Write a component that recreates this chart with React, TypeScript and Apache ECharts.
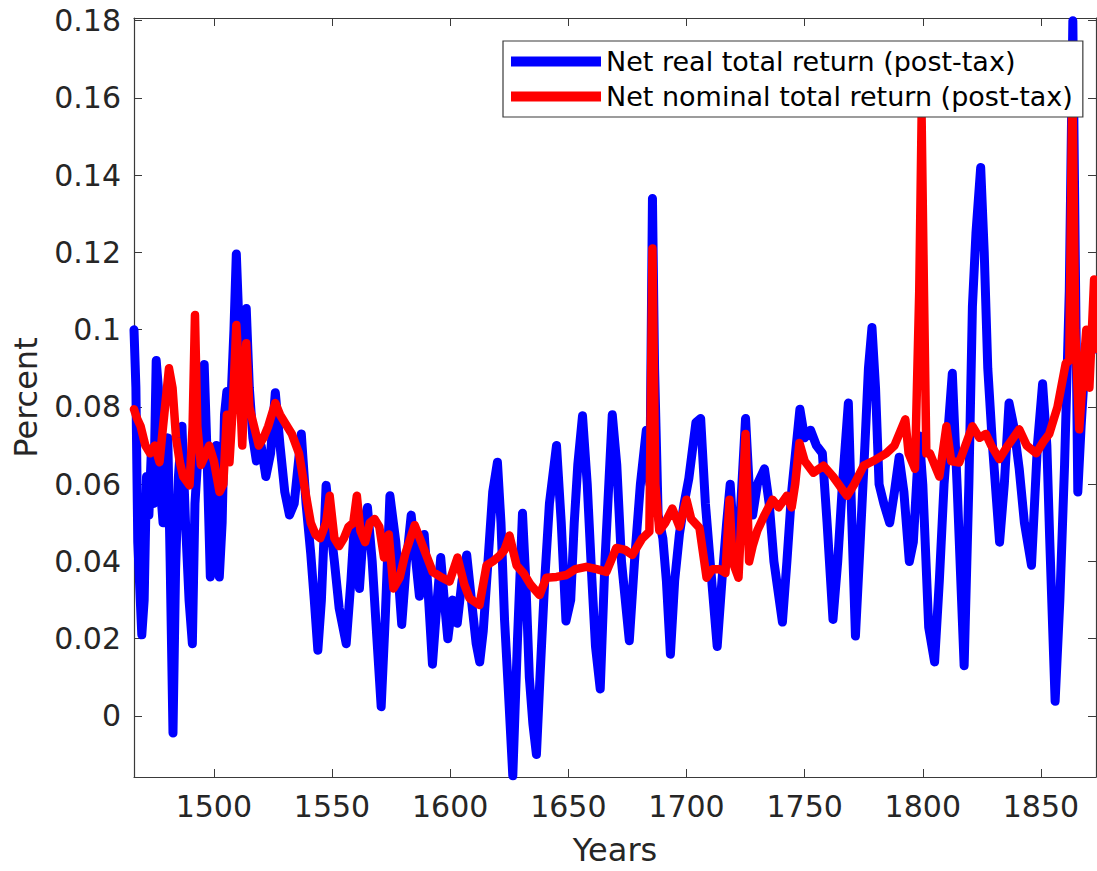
import React, { useEffect, useRef } from "react";
import * as echarts from "echarts";

const blueYears = [1466.2, 1467.0, 1467.8, 1469.5, 1470.5, 1471.5, 1472.5, 1473.5, 1474.5, 1475.6, 1476.5, 1477.5, 1478.5, 1479.5, 1480.5, 1481.5, 1482.7, 1483.8, 1485.0, 1486.5, 1488.0, 1489.5, 1490.9, 1492.0, 1493.5, 1495.9, 1497.0, 1498.5, 1500.0, 1501.0, 1502.3, 1503.5, 1504.5, 1505.5, 1507.0, 1508.5, 1509.5, 1511.0, 1512.5, 1513.7, 1515.0, 1516.5, 1518.0, 1520.0, 1522.0, 1524.0, 1526.0, 1528.0, 1530.0, 1532.0, 1534.0, 1537.0, 1539.0, 1541.0, 1542.5, 1544.0, 1545.5, 1547.5, 1549.5, 1551.0, 1553.0, 1556.0, 1558.0, 1559.5, 1561.6, 1563.5, 1565.0, 1567.0, 1569.0, 1570.8, 1572.5, 1574.5, 1577.0, 1579.5, 1581.5, 1583.5, 1585.5, 1587.0, 1589.0, 1590.5, 1592.5, 1594.5, 1596.0, 1597.5, 1599.0, 1601.0, 1603.0, 1605.0, 1607.0, 1609.0, 1611.0, 1612.5, 1614.0, 1616.0, 1618.0, 1620.0, 1621.5, 1623.0, 1624.5, 1626.5, 1628.5, 1630.6, 1632.0, 1633.5, 1635.0, 1636.5, 1638.0, 1640.0, 1642.0, 1645.0, 1647.0, 1649.0, 1651.0, 1652.5, 1654.0, 1656.0, 1658.0, 1660.0, 1661.5, 1663.5, 1665.5, 1668.6, 1670.5, 1672.5, 1675.8, 1678.0, 1680.5, 1683.0, 1684.5, 1685.6, 1686.5, 1688.0, 1690.0, 1691.5, 1693.2, 1695.0, 1697.0, 1699.0, 1701.0, 1704.0, 1706.0, 1708.0, 1710.0, 1713.0, 1715.0, 1717.0, 1718.5, 1720.0, 1721.5, 1723.0, 1725.0, 1726.5, 1728.0, 1730.0, 1733.0, 1735.0, 1737.0, 1740.6, 1742.5, 1744.5, 1748.0, 1750.0, 1752.5, 1755.0, 1757.5, 1759.5, 1762.0, 1764.0, 1766.0, 1768.5, 1770.0, 1771.5, 1773.5, 1775.5, 1777.0, 1778.5, 1780.0, 1781.5, 1783.5, 1786.0, 1788.0, 1790.0, 1792.0, 1794.3, 1796.0, 1798.5, 1800.0, 1802.5, 1805.0, 1807.0, 1809.0, 1812.5, 1814.5, 1817.5, 1819.5, 1821.0, 1822.5, 1824.5, 1826.0, 1827.5, 1829.5, 1832.5, 1834.5, 1836.5, 1838.5, 1840.8, 1843.0, 1846.0, 1848.5, 1850.7, 1852.5, 1853.7, 1856.0, 1858.0, 1860.0, 1862.0, 1863.5, 1864.5, 1865.6, 1867.0, 1868.5, 1870.5, 1873.3];
const blueValues = [0.100, 0.085, 0.045, 0.021, 0.030, 0.062, 0.052, 0.068, 0.055, 0.092, 0.085, 0.058, 0.050, 0.066, 0.072, 0.040, -0.0044, 0.038, 0.062, 0.075, 0.050, 0.030, 0.0187, 0.055, 0.070, 0.091, 0.070, 0.036, 0.045, 0.070, 0.036, 0.050, 0.078, 0.084, 0.078, 0.100, 0.1196, 0.095, 0.090, 0.1055, 0.085, 0.072, 0.066, 0.070, 0.062, 0.068, 0.0837, 0.070, 0.058, 0.052, 0.055, 0.073, 0.055, 0.042, 0.030, 0.017, 0.030, 0.0597, 0.048, 0.040, 0.028, 0.0187, 0.035, 0.050, 0.033, 0.050, 0.054, 0.040, 0.020, 0.0024, 0.025, 0.057, 0.045, 0.0237, 0.040, 0.052, 0.040, 0.031, 0.047, 0.034, 0.0134, 0.030, 0.041, 0.030, 0.020, 0.030, 0.024, 0.035, 0.0417, 0.030, 0.0187, 0.014, 0.022, 0.040, 0.058, 0.0657, 0.050, 0.025, 0.008, -0.0155, 0.020, 0.0525, 0.035, 0.010, -0.002, -0.010, 0.010, 0.035, 0.055, 0.070, 0.050, 0.0246, 0.030, 0.050, 0.065, 0.0777, 0.060, 0.035, 0.018, 0.007, 0.040, 0.078, 0.065, 0.040, 0.0195, 0.040, 0.060, 0.074, 0.060, 0.134, 0.090, 0.052, 0.046, 0.035, 0.016, 0.035, 0.047, 0.055, 0.0615, 0.076, 0.077, 0.055, 0.040, 0.018, 0.035, 0.050, 0.060, 0.045, 0.038, 0.055, 0.077, 0.060, 0.052, 0.060, 0.064, 0.055, 0.040, 0.0243, 0.040, 0.058, 0.0794, 0.072, 0.074, 0.070, 0.068, 0.050, 0.025, 0.040, 0.060, 0.081, 0.050, 0.0207, 0.045, 0.070, 0.090, 0.1006, 0.085, 0.060, 0.055, 0.050, 0.058, 0.067, 0.058, 0.040, 0.045, 0.0725, 0.060, 0.023, 0.014, 0.035, 0.060, 0.0887, 0.060, 0.013, 0.060, 0.106, 0.125, 0.142, 0.120, 0.090, 0.070, 0.045, 0.060, 0.081, 0.075, 0.064, 0.050, 0.039, 0.070, 0.086, 0.070, 0.046, 0.0038, 0.030, 0.065, 0.110, 0.180, 0.120, 0.058, 0.075, 0.090, 0.096, 0.095];

const redYears = [1466.2, 1467.5, 1469.0, 1471.0, 1473.0, 1475.0, 1477.0, 1478.5, 1481.0, 1482.5, 1484.0, 1485.5, 1487.0, 1489.7, 1491.0, 1492.0, 1493.0, 1494.5, 1496.0, 1498.0, 1500.0, 1502.4, 1504.0, 1505.5, 1506.6, 1508.0, 1509.5, 1511.0, 1512.0, 1513.7, 1515.0, 1517.0, 1519.0, 1521.0, 1523.0, 1526.0, 1528.0, 1530.0, 1533.0, 1536.0, 1539.0, 1541.0, 1543.0, 1545.0, 1547.5, 1549.0, 1551.0, 1553.0, 1555.0, 1557.0, 1559.0, 1560.5, 1562.0, 1564.0, 1566.0, 1568.0, 1570.0, 1572.0, 1574.0, 1576.0, 1578.6, 1581.0, 1585.0, 1588.4, 1592.6, 1596.0, 1599.7, 1603.1, 1606.0, 1608.2, 1612.4, 1615.4, 1618.0, 1620.9, 1623.0, 1625.1, 1628.1, 1631.0, 1634.0, 1637.8, 1640.7, 1645.0, 1649.2, 1653.0, 1657.6, 1662.0, 1666.1, 1670.3, 1674.0, 1677.1, 1681.3, 1684.3, 1685.6, 1686.8, 1688.5, 1691.0, 1694.0, 1697.0, 1700.0, 1702.0, 1705.5, 1708.5, 1711.0, 1714.0, 1716.5, 1718.2, 1719.5, 1722.0, 1725.0, 1726.5, 1728.0, 1730.0, 1733.0, 1736.4, 1739.0, 1742.5, 1744.5, 1746.0, 1747.8, 1750.0, 1753.7, 1758.0, 1762.0, 1765.5, 1768.0, 1771.0, 1775.0, 1779.0, 1784.5, 1788.0, 1792.6, 1794.0, 1796.7, 1798.5, 1799.5, 1800.5, 1801.5, 1803.0, 1807.0, 1810.0, 1812.0, 1815.4, 1818.0, 1821.0, 1824.0, 1826.7, 1829.0, 1832.4, 1836.0, 1840.8, 1844.0, 1848.0, 1851.0, 1853.5, 1857.0, 1860.5, 1862.0, 1863.3, 1864.5, 1866.2, 1868.0, 1869.2, 1870.5, 1872.5, 1873.3];
const redValues = [0.0794, 0.077, 0.075, 0.070, 0.068, 0.070, 0.0657, 0.075, 0.090, 0.085, 0.072, 0.066, 0.062, 0.0597, 0.075, 0.1038, 0.075, 0.065, 0.067, 0.070, 0.066, 0.058, 0.060, 0.078, 0.0657, 0.080, 0.1012, 0.085, 0.070, 0.0965, 0.080, 0.075, 0.070, 0.072, 0.075, 0.081, 0.078, 0.076, 0.073, 0.068, 0.057, 0.050, 0.047, 0.046, 0.050, 0.057, 0.046, 0.044, 0.046, 0.049, 0.050, 0.057, 0.048, 0.045, 0.050, 0.051, 0.049, 0.041, 0.047, 0.033, 0.0358, 0.042, 0.0494, 0.044, 0.0373, 0.036, 0.0348, 0.041, 0.034, 0.0305, 0.0287, 0.039, 0.040, 0.0415, 0.043, 0.0467, 0.039, 0.037, 0.034, 0.0313, 0.0358, 0.036, 0.0365, 0.038, 0.0386, 0.038, 0.0373, 0.0435, 0.043, 0.0417, 0.046, 0.0477, 0.121, 0.060, 0.048, 0.050, 0.0537, 0.049, 0.056, 0.051, 0.0487, 0.0358, 0.038, 0.038, 0.037, 0.056, 0.040, 0.0358, 0.073, 0.040, 0.044, 0.048, 0.052, 0.056, 0.054, 0.057, 0.054, 0.060, 0.0707, 0.066, 0.063, 0.0648, 0.062, 0.059, 0.057, 0.060, 0.0648, 0.066, 0.068, 0.070, 0.0768, 0.068, 0.064, 0.110, 0.155, 0.110, 0.068, 0.068, 0.062, 0.075, 0.066, 0.0656, 0.070, 0.075, 0.072, 0.073, 0.070, 0.0665, 0.070, 0.0742, 0.070, 0.068, 0.071, 0.073, 0.080, 0.0913, 0.092, 0.165, 0.100, 0.0742, 0.090, 0.100, 0.085, 0.113, 0.095];

const xTicks = [1500, 1550, 1600, 1650, 1700, 1750, 1800, 1850];
const xTickLabels = ["1500", "1550", "1600", "1650", "1700", "1750", "1800", "1850"];
const yTicks = [0, 0.02, 0.04, 0.06, 0.08, 0.1, 0.12, 0.14, 0.16, 0.18];
const yTickLabels = ["0", "0.02", "0.04", "0.06", "0.08", "0.1", "0.12", "0.14", "0.16", "0.18"];

const seriesNames = ["Net real total return (post-tax)", "Net nominal total return (post-tax)"];
const X_MIN = 1466.2;
const X_MAX = 1873.3;
const Y_MIN = -0.0158;
const Y_MAX = 0.1807;

const FONT = "DejaVu Sans";
const AXIS_COLOR = "#3a3a3a";
const LABEL_COLOR = "#262626";

function zip(xs: number[], ys: number[]) {
  return xs.map((x, i) => [x, ys[i]]);
}

export default function App() {
  const ref = useRef<HTMLDivElement>(null);
  useEffect(() => {
    if (!ref.current) return;
    const chart = echarts.init(ref.current, null, { renderer: "svg" });
    const xLabel = (v: number) => {
      const i = xTicks.indexOf(v);
      return i >= 0 ? xTickLabels[i] : "";
    };
    const yLabel = (v: number) => {
      const i = yTicks.findIndex((t) => Math.abs(t - v) < 1e-9);
      return i >= 0 ? yTickLabels[i] : "";
    };
    const baseX = {
      type: "value" as const,
      min: X_MIN,
      max: X_MAX,
      splitLine: { show: false },
      axisLine: { show: true, onZero: false, lineStyle: { color: AXIS_COLOR, width: 1.2 } },
    };
    const baseY = {
      type: "value" as const,
      min: Y_MIN,
      max: Y_MAX,
      splitLine: { show: false },
      axisLine: { show: true, onZero: false, lineStyle: { color: AXIS_COLOR, width: 1.2 } },
    };
    chart.setOption({
      animation: false,
      backgroundColor: "#ffffff",
      grid: { left: 134, top: 18, right: 1, bottom: 87, containLabel: false },
      xAxis: [
        {
          ...baseX,
          position: "bottom",
          name: "Years",
          nameLocation: "middle",
          nameGap: 57,
          nameTextStyle: { fontFamily: FONT, fontSize: 32, color: LABEL_COLOR },
          axisTick: { show: true, inside: true, length: 8, customValues: xTicks, lineStyle: { color: AXIS_COLOR } },
          axisLabel: {
            show: true,
            customValues: xTicks,
            formatter: xLabel,
            margin: 14,
            fontFamily: FONT,
            fontSize: 30,
            color: LABEL_COLOR,
          },
        },
        {
          ...baseX,
          position: "top",
          axisTick: { show: true, inside: true, length: 8, customValues: xTicks, lineStyle: { color: AXIS_COLOR } },
          axisLabel: { show: false },
        },
      ],
      yAxis: [
        {
          ...baseY,
          position: "left",
          name: "Percent",
          nameLocation: "middle",
          nameGap: 92,
          nameTextStyle: { fontFamily: FONT, fontSize: 32, color: LABEL_COLOR },
          axisTick: { show: true, inside: true, length: 8, customValues: yTicks, lineStyle: { color: AXIS_COLOR } },
          axisLabel: {
            show: true,
            customValues: yTicks,
            formatter: yLabel,
            margin: 13,
            fontFamily: FONT,
            fontSize: 30,
            color: LABEL_COLOR,
          },
        },
        {
          ...baseY,
          position: "right",
          axisTick: { show: true, inside: true, length: 8, customValues: yTicks, lineStyle: { color: AXIS_COLOR } },
          axisLabel: { show: false },
        },
      ],
      legend: {
        show: true,
        orient: "vertical",
        left: 503,
        top: 41,
        backgroundColor: "#ffffff",
        borderColor: "#3a3a3a",
        borderWidth: 1.2,
        padding: [7, 10, 7, 8],
        itemGap: 8,
        itemWidth: 90,
        itemHeight: 10,
        textStyle: { fontFamily: FONT, fontSize: 27, color: "#000000" },
        data: [
          { name: seriesNames[0], icon: "rect" },
          { name: seriesNames[1], icon: "rect" },
        ],
      },
      series: [
        {
          name: seriesNames[0],
          type: "line",
          data: zip(blueYears, blueValues),
          showSymbol: false,
          symbol: "none",
          color: "#0000ff",
          lineStyle: { color: "#0000ff", width: 9, cap: "round", join: "round" },
          z: 2,
        },
        {
          name: seriesNames[1],
          type: "line",
          data: zip(redYears, redValues),
          showSymbol: false,
          symbol: "none",
          color: "#ff0000",
          lineStyle: { color: "#ff0000", width: 8.5, cap: "round", join: "round" },
          z: 3,
        },
      ],
    });
    return () => chart.dispose();
  }, []);
  return (
    <div
      ref={ref}
      style={{ position: "fixed", left: 0, top: 0, width: 1097, height: 871, background: "#fff" }}
    />
  );
}
